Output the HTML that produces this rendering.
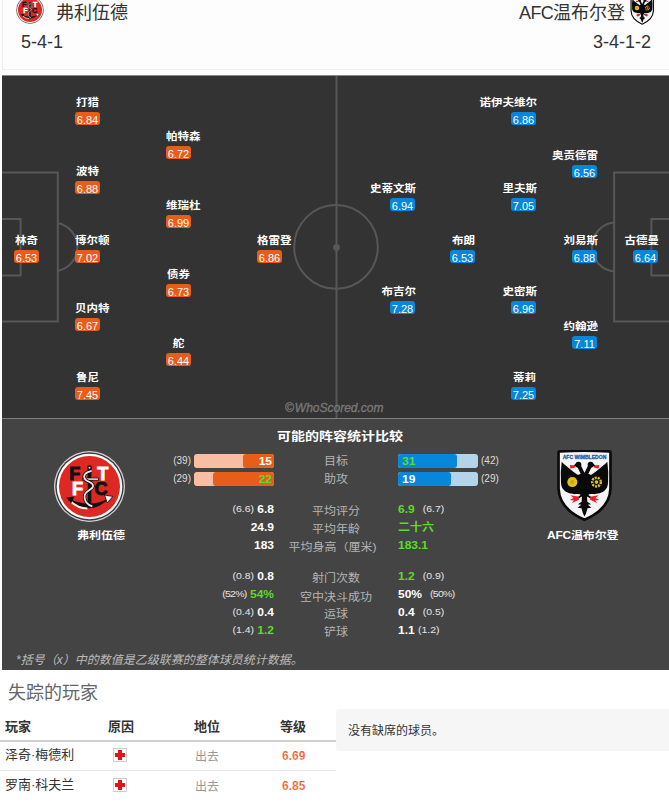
<!DOCTYPE html>
<html><head><meta charset="utf-8">
<style>
*{margin:0;padding:0;box-sizing:border-box}
html,body{width:669px;height:804px;overflow:hidden;background:#fff}
body{position:relative;font-family:"Liberation Sans","Noto Sans CJK SC",sans-serif;color:#333}
.abs{position:absolute;white-space:nowrap}
#hdr{position:absolute;left:2px;top:-10px;width:700px;height:80px;background:#fdfdfd;border:1px solid #efefef}
#pitch{position:absolute;left:2px;top:75px;width:680px;height:344px;background:#333;border-top:1px solid #8a8a8a;border-bottom:1px solid #7e7e7e}
#stats{position:absolute;left:2px;top:419px;width:680px;height:251px;background:#444}
.pl{position:absolute;width:25px;height:13px}
.pl .r{position:absolute;left:0;top:0;width:25px;height:13px;border-radius:3px;color:#fff;font:11px/13px "Liberation Sans",sans-serif;text-align:center;padding-top:2px}
.h .r{background:#e95d1b}
.a .r{background:#0787db}
.pl .n{position:absolute;left:0;width:25px;top:-17px;height:14px;text-align:center;white-space:nowrap;font:bold 11.5px/14px "Liberation Sans","Noto Sans CJK SC",sans-serif;color:#fff;transform:scaleY(0.88);transform-origin:50% 60%}
.a .n{direction:rtl;left:1px}
.lbl{color:#b5b5b5;font:12px/16px "Liberation Sans","Noto Sans CJK SC",sans-serif;text-align:center;width:200px;left:236px;transform:scaleY(0.9)}
.val{font:bold 12px/16px "Liberation Sans","Noto Sans CJK SC",sans-serif;color:#fff;transform:translateY(0.8px) scaleY(0.9);transform-origin:50% 4px}
.sm{font:10px/16px "Liberation Sans",sans-serif;color:#ddd;font-weight:normal}
.val .sm{font-size:10.5px;position:relative;top:-1.5px;color:#e4e4e4}
.g,.bar b.g{color:#5cdb27}
.bar{position:absolute;width:80px;height:14px;border-radius:3px;overflow:hidden}
.bar i{position:absolute;top:0;height:14px;border-radius:3px}
.bar b{position:absolute;top:0;font:bold 12px/14px "Liberation Sans",sans-serif;color:#fff;transform:scaleY(0.9);transform-origin:50% 11.5px}
.hb{background:#f9bda3}.hb i{right:0;background:#e95d1b}.hb b{right:2px}
.ab{background:#b3d4e9}.ab i{left:0;background:#0787db}.ab b{left:4px}
.th{font:bold 13px/16px "Liberation Sans","Noto Sans CJK SC",sans-serif;color:#333}
.td{font:13px/16px "Liberation Sans","Noto Sans CJK SC",sans-serif;color:#333}
.inj{position:absolute;width:14px;height:14px;border:1px solid #ccc;background:#fff}
.inj:before{content:"";position:absolute;left:4px;top:1px;width:4px;height:10px;background:#e0141b}
.inj:after{content:"";position:absolute;left:1px;top:4px;width:10px;height:4px;background:#e0141b}
</style></head><body>

<div id="hdr"></div>
<!-- header logos -->
<svg class="abs" style="left:16px;top:-4px" width="28" height="28" viewBox="0 0 100 100">
 <use href="#ftfc"/>
</svg>
<div class="abs" style="left:56px;top:1px;font:18px/24px 'Liberation Sans','Noto Sans CJK SC',sans-serif;color:#333">弗利伍德</div>
<div class="abs" style="left:21px;top:31px;font:18px/22px 'Liberation Sans',sans-serif;color:#333">5-4-1</div>
<div class="abs" style="right:44px;top:1px;font:18px/24px 'Liberation Sans','Noto Sans CJK SC',sans-serif;color:#333"><span style="letter-spacing:-0.7px">AFC</span>温布尔登</div>
<div class="abs" style="right:18px;top:31px;font:18px/22px 'Liberation Sans',sans-serif;color:#333">3-4-1-2</div>
<svg class="abs" style="left:630px;top:-6px" width="24" height="31" viewBox="0 0 55 70">
 <use href="#afcw"/>
</svg>

<div id="pitch"></div>
<svg class="abs" style="left:0;top:0" width="669" height="419" viewBox="0 0 669 419">
 <g fill="none" stroke="#575757" stroke-width="2">
  <line x1="336.5" y1="76" x2="336.5" y2="418"/>
  <circle cx="336" cy="246.9" r="41.8"/>
  <path d="M2 172.6H57.8V321.6H2"/>
  <path d="M2 218.9H20.6V275.4H2"/>
  <path d="M57.8 223A24.5 24.5 0 0 1 57.8 271"/>
  <path d="M671 172.6H614.1V321.6H671"/>
  <path d="M671 219H651.4V275.4H671"/>
  <path d="M614.1 222.6A24.5 24.5 0 0 0 614.1 271.4"/>
 </g>
 <circle cx="336.5" cy="247.4" r="3.4" fill="#575757"/>
</svg>
<div class="abs" style="left:285px;top:402px;font:italic 12px/13px 'Liberation Sans',sans-serif;color:#7a7a7a;-webkit-text-stroke:0.3px #7a7a7a">©<span style="margin-left:1px">WhoScored.com</span></div>

<!-- home players -->
<div class="pl h" style="left:14px;top:250px"><div class="n">林奇</div><div class="r">6.53</div></div>
<div class="pl h" style="left:75px;top:112px"><div class="n">打猎</div><div class="r">6.84</div></div>
<div class="pl h" style="left:75px;top:181px"><div class="n">波特</div><div class="r">6.88</div></div>
<div class="pl h" style="left:75px;top:250px"><div class="n">博尔顿</div><div class="r">7.02</div></div>
<div class="pl h" style="left:75px;top:318px"><div class="n">贝内特</div><div class="r">6.67</div></div>
<div class="pl h" style="left:75px;top:387px"><div class="n">鲁尼</div><div class="r">7.45</div></div>
<div class="pl h" style="left:166px;top:146px"><div class="n">帕特森</div><div class="r">6.72</div></div>
<div class="pl h" style="left:166px;top:215px"><div class="n">维瑞杜</div><div class="r">6.99</div></div>
<div class="pl h" style="left:166px;top:284px"><div class="n">债券</div><div class="r">6.73</div></div>
<div class="pl h" style="left:166px;top:353px"><div class="n">舵</div><div class="r">6.44</div></div>
<div class="pl h" style="left:257px;top:250px"><div class="n">格雷登</div><div class="r">6.86</div></div>
<!-- away players -->
<div class="pl a" style="left:511px;top:112px"><div class="n">诺伊夫维尔</div><div class="r">6.86</div></div>
<div class="pl a" style="left:572px;top:165px"><div class="n">奥贡德雷</div><div class="r">6.56</div></div>
<div class="pl a" style="left:390px;top:198px"><div class="n">史蒂文斯</div><div class="r">6.94</div></div>
<div class="pl a" style="left:511px;top:198px"><div class="n">里夫斯</div><div class="r">7.05</div></div>
<div class="pl a" style="left:450px;top:250px"><div class="n">布朗</div><div class="r">6.53</div></div>
<div class="pl a" style="left:572px;top:250px"><div class="n">刘易斯</div><div class="r">6.88</div></div>
<div class="pl a" style="left:633px;top:250px"><div class="n">古德曼</div><div class="r">6.64</div></div>
<div class="pl a" style="left:390px;top:301px"><div class="n">布吉尔</div><div class="r">7.28</div></div>
<div class="pl a" style="left:511px;top:301px"><div class="n">史密斯</div><div class="r">6.96</div></div>
<div class="pl a" style="left:572px;top:336px"><div class="n">约翰逊</div><div class="r">7.11</div></div>
<div class="pl a" style="left:511px;top:387px"><div class="n">蒂莉</div><div class="r">7.25</div></div>

<div id="stats"></div>
<div class="abs" style="left:240px;width:200px;text-align:center;top:428px;font:bold 14px/18px 'Liberation Sans','Noto Sans CJK SC',sans-serif;color:#fff;transform:scaleY(0.88)">可能的阵容统计比较</div>

<svg class="abs" style="left:54px;top:451px" width="71" height="71" viewBox="0 0 100 100">
 <g id="ftfc">
  <circle cx="50" cy="50" r="50" fill="#d4d4d4"/>
  <circle cx="50" cy="50" r="48.2" fill="#3a3a3a"/>
  <circle cx="50" cy="50" r="46.2" fill="#fff"/>
  <circle cx="50" cy="50" r="43" fill="#dd2823"/>
  <g font-family="Liberation Sans,sans-serif" font-weight="bold" font-size="25.5" stroke-width="1.3">
   <text x="21.5" y="40.7" fill="#111" stroke="#111">F</text>
   <text x="61" y="40.7" fill="#fff" stroke="#fff">T</text>
   <text x="25.5" y="62.2" fill="#fff" stroke="#fff">F</text>
   <text x="57" y="62.2" fill="#111" stroke="#111">C</text>
  </g>
  <path d="M21 67Q50 95 79 66Q50 82 21 67Z" fill="#111"/>
  <path d="M22 70Q34 81 47 81" fill="none" stroke="#f4f4f4" stroke-width="2.6"/>
  <path d="M17 65.5L29 64L24 74Z" fill="#111"/>
  <path d="M83 64L71 62L75 73Z" fill="#f4f4f4" stroke="#111" stroke-width="1.2"/>
  <rect x="47.6" y="24" width="5" height="56" fill="#111"/>
  <circle cx="50" cy="23.5" r="3.4" fill="#111"/>
  <circle cx="50" cy="23.5" r="1.4" fill="#ddd"/>
  <path d="M40 39.6H63" stroke="#111" stroke-width="4"/>
  <path d="M41 39.6H62" stroke="#f2f2f2" stroke-width="2"/>
  <path d="M53 28C44 30 40 35 44 40C47 44 56 44 55 50C54 55 43 56 43 64C43 72 48 76 54 78" fill="none" stroke="#111" stroke-width="4.6"/>
  <path d="M53 28C44 30 40 35 44 40C47 44 56 44 55 50C54 55 43 56 43 64C43 72 48 76 54 78" fill="none" stroke="#eee" stroke-width="2.4"/>
 </g>
</svg>
<div class="abs" style="left:77px;top:528px;font:bold 12px/16px 'Liberation Sans','Noto Sans CJK SC',sans-serif;color:#fff;transform:scaleY(0.86)">弗利伍德</div>

<svg class="abs" style="left:556px;top:450px" width="56" height="71" viewBox="0 0 55 70">
 <g id="afcw">
  <path d="M2.4 2.6Q2.4 1.4 4 1.3Q28 0.2 52 1.3Q53.6 1.4 53.6 2.6L53.6 38Q53 58 28 68.8Q3 58 2.4 38Z" fill="#f5f5f5" stroke="#0a0a0a" stroke-width="2.6"/>
  <text x="28" y="8.4" text-anchor="middle" font-family="Liberation Sans,sans-serif" font-weight="bold" font-size="4.6" fill="#1f57a8" stroke="#1f57a8" stroke-width="0.25" textLength="43" lengthAdjust="spacingAndGlyphs">AFC WIMBLEDON</text>
  <g fill="#0a0a0a">
   <path d="M5.5 11.5C9 15 15 20 22 25L24.5 43.5C22 43.8 20 43 18 43.6C16 42.8 13 43 11.5 41.8C9.5 41.5 8 40 6.8 38.5C5.5 37 5 35 4.8 32L4.6 22Z"/>
   <path d="M50.5 11.5C47 15 41 20 34 25L31.5 43.5C34 43.8 36 43 38 43.6C40 42.8 43 43 44.5 41.8C46.5 41.5 48 40 49.2 38.5C50.5 37 51 35 51.2 32L51.4 22Z"/>
   <path d="M21 25C24 23.5 26 23 28 23C30 23 32 23.5 35 25L33.5 42C31.5 45 30.5 46 30 48L26 48C25.5 46 24.5 45 22.5 42Z"/>
   <path d="M25.6 44L30.4 44L30.8 51L34.5 53.5L31.2 54L34.8 57L31 57.5L29.5 62.5L28 65.5L26.5 62.5L25 57.5L21.2 57L24.8 54L21.5 53.5L25.2 51Z"/><path d="M25.5 44.5L21 47.5M30.5 44.5L35 47.5" stroke="#0a0a0a" stroke-width="1.8"/>
   <circle cx="22" cy="14.6" r="2.9"/><circle cx="34" cy="14.6" r="2.9"/>
   <path d="M20 13L16.8 15.6L20.4 16.6Z M36 13L39.2 15.6L35.6 16.6Z"/>
  </g>
  <path d="M27.6 26L22.4 15.5M28.4 26L33.6 15.5" stroke="#0a0a0a" stroke-width="3.8" stroke-linecap="round"/>
  <g fill="#e3202a">
   <path d="M13.5 14.8L18.5 15.4L18.8 17.2L14.2 18.4Z M42.5 14.8L37.5 15.4L37.2 17.2L41.8 18.4Z"/>
   <path d="M22.5 46L14 44.6L17.2 47.4L13.4 49.2L17.6 49.8L15.4 52.4L22.5 49Z M33.5 46L42 44.6L38.8 47.4L42.6 49.2L38.4 49.8L40.6 52.4L33.5 49Z"/>
  </g>
  <circle cx="16" cy="31.6" r="5" fill="#e3c11c"/>
  <circle cx="16" cy="31.6" r="2" fill="#c9a412"/>
  <circle cx="39.8" cy="31.6" r="4.3" fill="none" stroke="#e3c11c" stroke-width="2.4" stroke-dasharray="2 1"/>
  <circle cx="39.8" cy="31.6" r="1.8" fill="#e3c11c"/>
 </g>
</svg>
<div class="abs" style="left:547px;top:528px;font:bold 12px/16px 'Liberation Sans','Noto Sans CJK SC',sans-serif;color:#fff;transform:scaleY(0.86);letter-spacing:-0.2px">AFC温布尔登</div>

<!-- bars -->
<div class="abs sm" style="right:478px;top:453px">(39)</div>
<div class="bar hb" style="left:194px;top:454px"><i style="width:31px"></i><b>15</b></div>
<div class="abs lbl" style="top:453px">目标</div>
<div class="bar ab" style="left:398px;top:454px"><i style="width:59px"></i><b class="g">31</b></div>
<div class="abs sm" style="left:481px;top:453px">(42)</div>

<div class="abs sm" style="right:478px;top:471px">(29)</div>
<div class="bar hb" style="left:194px;top:472px"><i style="width:61px"></i><b class="g">22</b></div>
<div class="abs lbl" style="top:470.5px">助攻</div>
<div class="bar ab" style="left:398px;top:472px"><i style="width:53px"></i><b>19</b></div>
<div class="abs sm" style="left:481px;top:471px">(29)</div>

<!-- stat rows -->
<div class="abs val" style="right:395px;top:501px"><span class="sm">(6.6)</span> 6.8</div>
<div class="abs lbl" style="top:503px">平均评分</div>
<div class="abs val g" style="left:398px;top:501px">6.9<span class="sm" style="margin-left:8px">(6.7)</span></div>

<div class="abs val" style="right:395px;top:519px">24.9</div>
<div class="abs lbl" style="top:521px">平均年龄</div>
<div class="abs val g" style="left:398px;top:519px">二十六</div>

<div class="abs val" style="right:395px;top:537px">183</div>
<div class="abs lbl" style="top:539px;margin-left:-3.5px">平均身高（厘米)</div>
<div class="abs val g" style="left:398px;top:537px">183.1</div>

<div class="abs val" style="right:395px;top:568px"><span class="sm">(0.8)</span> 0.8</div>
<div class="abs lbl" style="top:570px">射门次数</div>
<div class="abs val g" style="left:398px;top:568px">1.2<span class="sm" style="margin-left:8px">(0.9)</span></div>

<div class="abs val g" style="right:395px;top:586px"><span class="sm" style="letter-spacing:-0.7px">(52%)</span> 54%</div>
<div class="abs lbl" style="top:589px">空中决斗成功</div>
<div class="abs val" style="left:398px;top:586px">50%<span class="sm" style="margin-left:8px;letter-spacing:-0.7px">(50%)</span></div>

<div class="abs val" style="right:395px;top:604px"><span class="sm">(0.4)</span> 0.4</div>
<div class="abs lbl" style="top:606px">运球</div>
<div class="abs val" style="left:398px;top:604px">0.4<span class="sm" style="margin-left:8px">(0.5)</span></div>

<div class="abs val g" style="right:395px;top:622px"><span class="sm">(1.4)</span> 1.2</div>
<div class="abs lbl" style="top:624px">铲球</div>
<div class="abs val" style="left:398px;top:622px">1.1 <span class="sm">(1.2)</span></div>

<div class="abs" style="left:16px;top:652px;font:italic 12px/16px 'Liberation Sans','Noto Sans CJK SC',sans-serif;color:#bbb">*括号（x）中的数值是乙级联赛的整体球员统计数据。</div>

<!-- missing players -->
<div class="abs" style="left:8px;top:681px;font:18px/24px 'Liberation Sans','Noto Sans CJK SC',sans-serif;color:#666">失踪的玩家</div>
<div class="abs th" style="left:5px;top:719px">玩家</div>
<div class="abs th" style="left:108px;top:719px">原因</div>
<div class="abs th" style="left:194px;top:719px">地位</div>
<div class="abs th" style="left:280px;top:719px">等级</div>
<div class="abs" style="left:0;top:740px;width:336px;height:2px;background:#d0d0d0"></div>
<div class="abs td" style="left:5px;top:747px">泽奇·梅德利</div>
<div class="inj" style="left:113px;top:748px"></div>
<div class="abs td" style="left:195px;top:749px;color:#999;font-size:12px">出去</div>
<div class="abs" style="left:282px;top:748px;font:bold 12px/16px 'Liberation Sans',sans-serif;color:#ec5a1f;-webkit-text-stroke:0.2px #fff">6.69</div>
<div class="abs" style="left:0;top:770px;width:336px;height:1px;background:#e8e8e8"></div>
<div class="abs td" style="left:5px;top:777px">罗南·科夫兰</div>
<div class="inj" style="left:113px;top:778px"></div>
<div class="abs td" style="left:195px;top:779px;color:#999;font-size:12px">出去</div>
<div class="abs" style="left:282px;top:778px;font:bold 12px/16px 'Liberation Sans',sans-serif;color:#ec5a1f;-webkit-text-stroke:0.2px #fff">6.85</div>

<div class="abs" style="left:336px;top:709px;width:360px;height:42px;background:#f6f6f6;border-radius:3px"></div>
<div class="abs" style="left:348px;top:723px;font:12px/16px 'Liberation Sans','Noto Sans CJK SC',sans-serif;color:#333">没有缺席的球员。</div>

</body></html>
